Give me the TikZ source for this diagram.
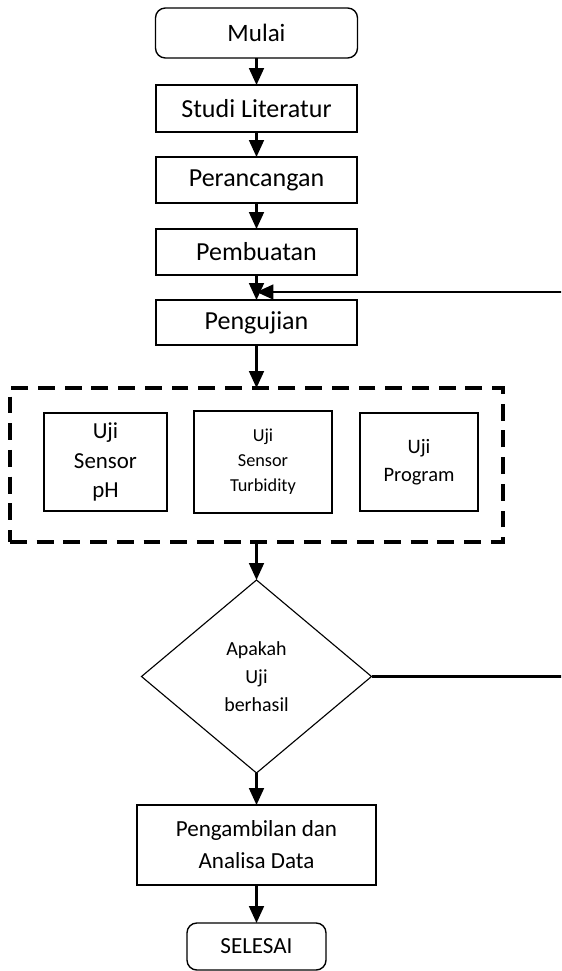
\documentclass[tikz,border=0pt]{standalone}
\usepackage{fontspec}
\setmainfont{Carlito}
\usetikzlibrary{shapes.geometric, arrows.meta, positioning, calc}

\begin{document}
\begin{tikzpicture}[
    node distance=0.65cm,
    every node/.style={outer sep=0pt},
    term/.style={draw, line width=1pt, rounded corners=7pt, align=center, inner sep=2pt},
    proc/.style={draw, line width=1pt, minimum width=5.025cm, minimum height=1.15cm, align=center, inner sep=2pt, font=\fontsize{18.5}{22}\selectfont},
    ujibox/.style={draw, line width=1pt, minimum height=2.45cm, align=center, inner sep=2pt},
    group/.style={draw, line width=2.7pt, dash pattern=on 12pt off 7pt, minimum width=12.325cm, minimum height=3.85cm},
    decide/.style={draw, diamond, line width=0.8pt, minimum width=5.75cm, minimum height=4.825cm, inner sep=0pt, align=center, font=\fontsize{14.2}{20}\selectfont},
    arr/.style={-{Triangle[length=12pt, width=10.5pt]}, line width=1.6pt},
]
\useasboundingbox (0,0) rectangle (14.025,-24.275);
\clip (0,0) rectangle (14.025,-24.275);

\node[term, minimum width=5.05cm, minimum height=1.25cm, font=\fontsize{17.8}{21}\selectfont] (mulai) at (6.4125,-0.825) {Mulai};
\node[proc, below=0.675cm of mulai, minimum height=1.175cm] (studi) {Studi Literatur};
\node[proc, below=0.625cm of studi] (rancang) {Perancangan};
\node[proc, below=0.65cm of rancang] (buat) {Pembuatan};
\node[proc, below=0.625cm of buat, minimum height=1.125cm] (uji) {Pengujian};

% Kotak pengujian
\node[group, below=1.075cm of uji] (grup) {};
\node[ujibox, minimum width=3.45cm, minimum height=2.55cm, font=\fontsize{13}{17.8}\selectfont] (turb) at ([xshift=0.1625cm, yshift=0.075cm]grup.center) {Uji\\Sensor\\Turbidity};
\node[ujibox, minimum width=3.075cm, font=\fontsize{16.3}{21}\selectfont, left=0.675cm of turb] (ph) {Uji\\Sensor\\pH};
\node[ujibox, minimum width=2.95cm, font=\fontsize{14.6}{20}\selectfont, right=0.7cm of turb] (prog) {Uji\\Program};

\node[decide, below=0.95cm of grup] (cek) {Apakah\\Uji\\berhasil};
\node[proc, below=0.8cm of cek, minimum width=5.975cm, minimum height=2cm, font=\fontsize{16.4}{22.7}\selectfont] (data) {Pengambilan dan\\Analisa Data};
\node[term, below=0.95cm of data, minimum width=3.475cm, minimum height=1.175cm, font=\fontsize{16.4}{20}\selectfont] (selesai) {SELESAI};

% Alur utama
\foreach \a/\b in {mulai/studi, studi/rancang, rancang/buat, buat/uji, uji/grup, grup/cek, cek/data, data/selesai} {
    \draw[arr] (\a) -- (\b);
}

% Umpan balik jika gagal
\coordinate (balik) at ($(buat.south)!0.68!(uji.north)$);
\coordinate (tepi) at (14.1,0);
\draw[arr] (cek.east) -- (cek.east -| tepi) |- (balik);

\end{tikzpicture}
\end{document}
